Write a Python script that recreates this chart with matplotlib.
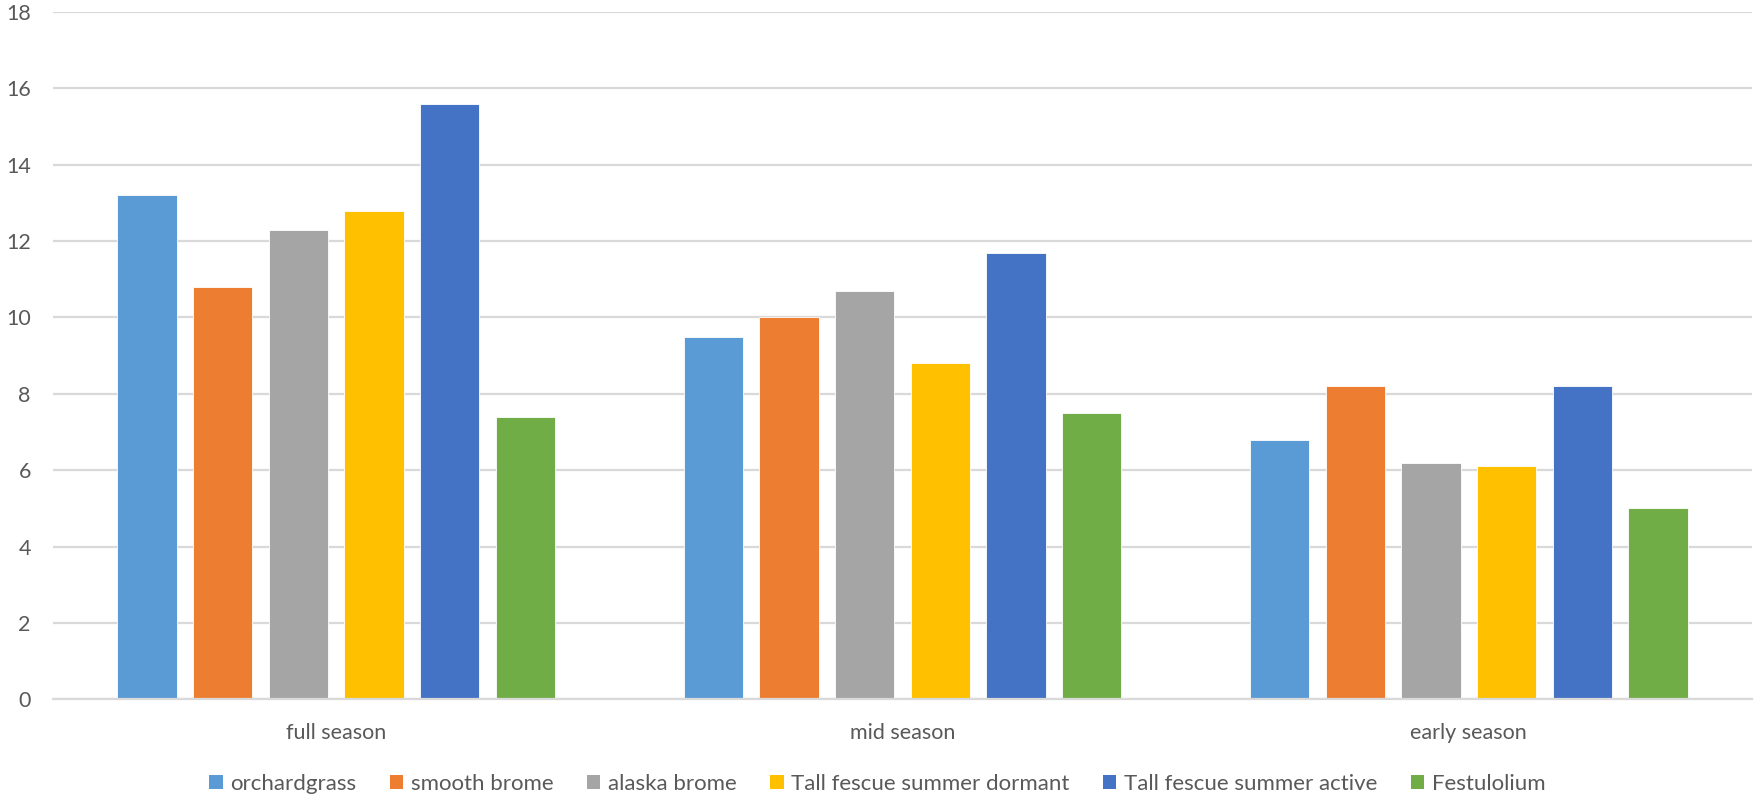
import matplotlib
matplotlib.use("Agg")
import matplotlib.pyplot as plt
import numpy as np
from matplotlib.patches import Patch

categories = ["full season", "mid season", "early season"]
series_names = [
    "orchardgrass",
    "smooth brome",
    "alaska brome",
    "Tall fescue summer dormant",
    "Tall fescue summer active",
    "Festulolium",
]
orchardgrass = [13.2, 9.5, 6.8]
smooth_brome = [10.8, 10.0, 8.2]
alaska_brome = [12.3, 10.7, 6.2]
tall_fescue_dormant = [12.8, 8.8, 6.1]
tall_fescue_active = [15.6, 11.7, 8.2]
festulolium = [7.4, 7.5, 5.0]
y_ticks = [0, 2, 4, 6, 8, 10, 12, 14, 16, 18]

series_values = [orchardgrass, smooth_brome, alaska_brome,
                 tall_fescue_dormant, tall_fescue_active, festulolium]
colors = ["#5B9BD5", "#ED7D31", "#A5A5A5", "#FFC000", "#4472C4", "#70AD47"]

plt.rcParams["font.family"] = ["Lato", "DejaVu Sans"]
text_color = "#595959"
grid_color = "#D9D9D9"

fig = plt.figure(figsize=(17.55, 8.01), dpi=100)
ax = fig.add_axes([53 / 1755, 1 - 699.3 / 801, (1752 - 53) / 1755, (699.3 - 12) / 801])

x = np.arange(len(categories))
pitch = 0.1336
width = 0.1048
n = len(series_values)
for i, (vals, col) in enumerate(zip(series_values, colors)):
    offs = (i - (n - 1) / 2) * pitch
    ax.bar(x + offs, vals, width=width, color=col, zorder=3,
           edgecolor="white", linewidth=0.6)

ax.set_xlim(-0.5, len(categories) - 0.5)
ax.set_ylim(0, 18)
ax.set_yticks(y_ticks)
ax.set_yticklabels([str(t) for t in y_ticks])
ax.set_xticks(x)
ax.set_xticklabels(categories)
ax.yaxis.grid(True, color=grid_color, linewidth=1.6, zorder=0)
ax.set_axisbelow(True)
for s in ["top", "right", "left"]:
    ax.spines[s].set_visible(False)
ax.spines["bottom"].set_color(grid_color)
ax.spines["bottom"].set_linewidth(1.6)
ax.spines["bottom"].set_zorder(4)
ax.tick_params(axis="both", length=0, labelsize=15.5, colors=text_color)
ax.tick_params(axis="y", pad=16)
ax.tick_params(axis="x", pad=17)

handles = [Patch(facecolor=c, edgecolor="none") for c in colors]
fig.legend(handles, series_names, loc="center", bbox_to_anchor=(0.5, 1 - 783.5 / 801),
           ncol=6, frameon=False, fontsize=16, labelcolor=text_color,
           handlelength=0.6, handleheight=0.6, handletextpad=0.35,
           columnspacing=1.5)

fig.savefig("out.png", dpi=100, facecolor="white")
